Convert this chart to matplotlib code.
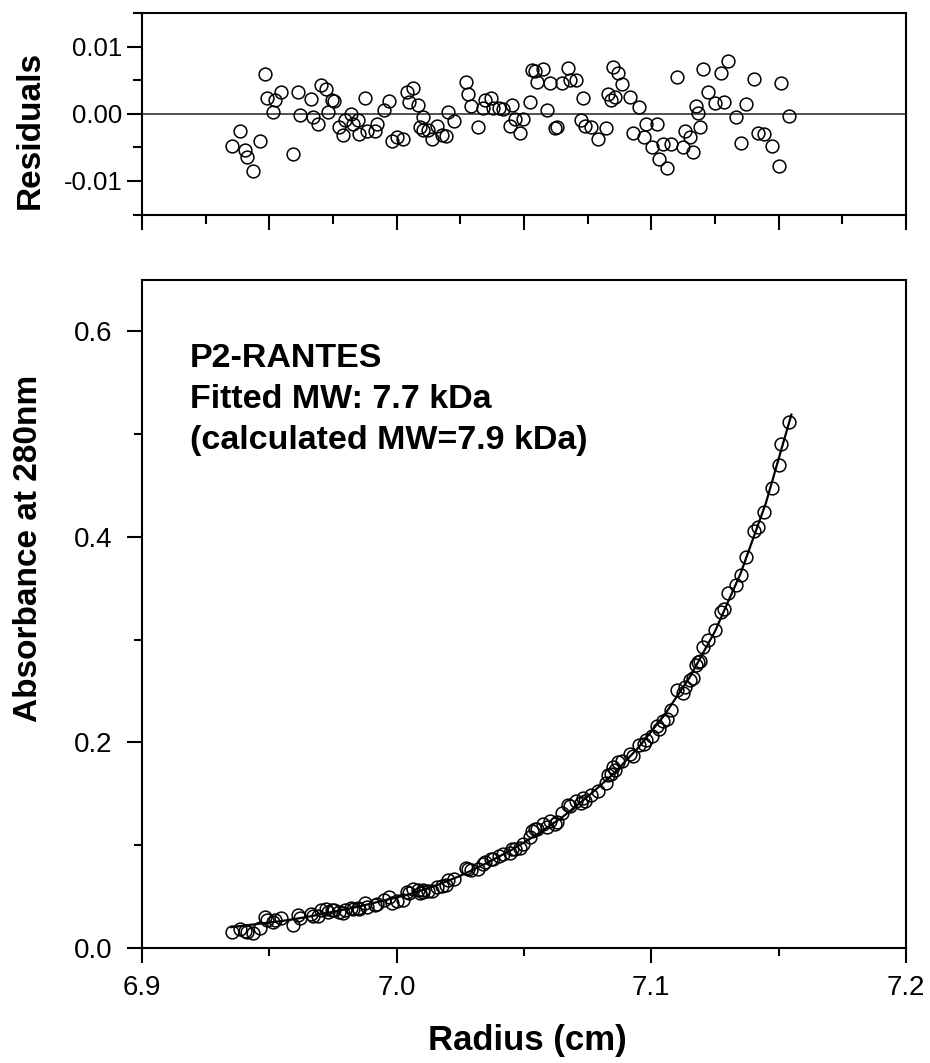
import matplotlib
matplotlib.use("Agg")
import matplotlib.pyplot as plt
from matplotlib.ticker import MultipleLocator, FixedLocator, FixedFormatter, NullFormatter

plt.rcParams['font.family'] = ['Liberation Sans', 'DejaVu Sans']

# ---------------- data ----------------
radius = [
    6.9352, 6.9385, 6.9404, 6.9411, 6.9435, 6.9463, 6.9483, 6.9489, 6.9513, 6.9522,
    6.9544, 6.9592, 6.9614, 6.9620, 6.9662, 6.9670, 6.9692, 6.9701, 6.9722, 6.9732,
    6.9745, 6.9754, 6.9775, 6.9790, 6.9797, 6.9819, 6.9827, 6.9849, 6.9853, 6.9876,
    6.9882, 6.9915, 6.9921, 6.9950, 6.9971, 6.9980, 7.0000, 7.0023, 7.0039, 7.0050,
    7.0065, 7.0085, 7.0102, 7.0091, 7.0105, 7.0124, 7.0137, 7.0157, 7.0177, 7.0194,
    7.0203, 7.0225, 7.0272, 7.0281, 7.0290, 7.0320, 7.0338, 7.0347, 7.0369, 7.0379,
    7.0403,
    7.0419, 7.0451, 7.0445, 7.0464, 7.0484, 7.0495, 7.0523, 7.0530, 7.0543, 7.0552,
    7.0573, 7.0591, 7.0602, 7.0622, 7.0631, 7.0648, 7.0674, 7.0680, 7.0704, 7.0722,
    7.0733, 7.0739, 7.0765, 7.0792, 7.0822, 7.0831, 7.0840, 7.0851, 7.0857, 7.0870,
    7.0883, 7.0916, 7.0929, 7.0953, 7.0971, 7.0979, 7.1001, 7.1021, 7.1031, 7.1047,
    7.1063, 7.1076, 7.1102, 7.1123, 7.1132, 7.1152, 7.1162, 7.1175, 7.1184, 7.1191,
    7.1201, 7.1224, 7.1250, 7.1272, 7.1285, 7.1302, 7.1332, 7.1354, 7.1371, 7.1403,
    7.1420, 7.1442, 7.1472, 7.1502, 7.1511, 7.1542,
]

residuals = [
    -0.0048, -0.0025, -0.0054, -0.0064, -0.0085, -0.0041, 0.0059, 0.0023, 0.0002, 0.0021,
    0.0032, -0.0060, 0.0033, -0.0002, 0.0022, -0.0005, -0.0015, 0.0043, 0.0037, 0.0003,
    0.0021, 0.0019, -0.0020, -0.0031, -0.0009, 0.0000, -0.0016, -0.0010, -0.0030, 0.0023,
    -0.0026, -0.0025, -0.0015, 0.0005, 0.0019, -0.0041, -0.0034, -0.0038, 0.0033, 0.0017,
    0.0038, 0.0013, -0.0005, -0.0019, -0.0024, -0.0024, -0.0038, -0.0018, -0.0031, -0.0033,
    0.0003, -0.0011, 0.0047, 0.0030, 0.0012, -0.0019, 0.0008, 0.0020, 0.0023, 0.0009,
    0.0008,
    0.0007, 0.0013, -0.0018, -0.0008, -0.0028, -0.0008, 0.0018, 0.0065, 0.0064, 0.0048,
    0.0066, 0.0006, 0.0046, -0.0021, -0.0019, 0.0046, 0.0068, 0.0050, 0.0050, -0.0009,
    0.0023, -0.0018, -0.0019, -0.0037, -0.0021, 0.0030, 0.0021, 0.0070, 0.0025, 0.0061,
    0.0045, 0.0025, -0.0029, 0.0010, -0.0035, -0.0015, -0.0050, -0.0015, -0.0068, -0.0045,
    -0.0081, -0.0045, 0.0054, -0.0050, -0.0026, -0.0034, -0.0057, 0.0012, 0.0001, -0.0020,
    0.0066, 0.0033, 0.0016, 0.0061, 0.0017, 0.0079, -0.0005, -0.0044, 0.0014, 0.0052,
    -0.0028, -0.0030, -0.0048, -0.0078, 0.0046, -0.0004,
]

absorbance = [
    0.0153, 0.0186, 0.0162, 0.0154, 0.0141, 0.0193, 0.0299, 0.0265, 0.0251, 0.0273,
    0.0290, 0.0217, 0.0319, 0.0286, 0.0328, 0.0305, 0.0306, 0.0369, 0.0373, 0.0344,
    0.0369, 0.0371, 0.0343, 0.0339, 0.0365, 0.0385, 0.0373, 0.0390, 0.0372, 0.0439,
    0.0393, 0.0414, 0.0428, 0.0465, 0.0492, 0.0437, 0.0456, 0.0466, 0.0546, 0.0537,
    0.0570, 0.0561, 0.0557, 0.0534, 0.0540, 0.0555, 0.0552, 0.0589, 0.0596, 0.0611,
    0.0656, 0.0664, 0.0773, 0.0767, 0.0760, 0.0765, 0.0814, 0.0836, 0.0868, 0.0867,
    0.0897,
    0.0917, 0.0965, 0.0926, 0.0963, 0.0973, 0.1010, 0.1078, 0.1135, 0.1154, 0.1151,
    0.1205, 0.1176, 0.1234, 0.1201, 0.1219, 0.1313, 0.1386, 0.1380, 0.1428, 0.1405,
    0.1459, 0.1430, 0.1484, 0.1525, 0.1607, 0.1678, 0.1689, 0.1763, 0.1733, 0.1803,
    0.1821, 0.1886, 0.1866, 0.1969, 0.1980, 0.2025, 0.2058, 0.2155, 0.2133, 0.2206,
    0.2227, 0.2311, 0.2506, 0.2480, 0.2537, 0.2605, 0.2626, 0.2754, 0.2784, 0.2795,
    0.2926, 0.2996, 0.3096, 0.3264, 0.3293, 0.3450, 0.3534, 0.3624, 0.3799, 0.4058,
    0.4096, 0.4246, 0.4471, 0.4699, 0.4901, 0.5117,
]

fit_radius = [6.935, 6.945, 6.955, 6.965, 6.975, 6.985, 6.995, 7.005, 7.015, 7.025,
              7.035, 7.045, 7.055, 7.065, 7.075, 7.085, 7.095, 7.105, 7.115, 7.125,
              7.135, 7.145, 7.155]
fit_absorbance = [0.020, 0.023, 0.026, 0.030, 0.035, 0.040, 0.046, 0.052, 0.060, 0.070,
                  0.082, 0.095, 0.110, 0.127, 0.147, 0.169, 0.195, 0.226, 0.263, 0.308,
                  0.364, 0.433, 0.519]

x_ticks = [6.9, 7.0, 7.1, 7.2]
x_ticklabels = ["6.9", "7.0", "7.1", "7.2"]
abs_ticks = [0.0, 0.2, 0.4, 0.6]
abs_ticklabels = ["0.0", "0.2", "0.4", "0.6"]
res_ticks = [-0.01, 0.0, 0.01]
res_ticklabels = ["-0.01", "0.00", "0.01"]

annotation_lines = ["P2-RANTES", "Fitted MW: 7.7 kDa", "(calculated MW=7.9 kDa)"]

# ---------------- figure ----------------
W, H = 930, 1063
fig = plt.figure(figsize=(W / 100, H / 100), dpi=100)

ax_l, ax_r = 142, 906
ax_top = fig.add_axes([ax_l / W, 1 - 214.5 / H, (ax_r - ax_l) / W, 201.5 / H])
ax_bot = fig.add_axes([ax_l / W, 1 - 947.7 / H, (ax_r - ax_l) / W, (947.7 - 280) / H])

marker_kw = dict(linestyle='none', marker='o', markersize=9.2, markerfacecolor='none',
                 markeredgecolor='black', markeredgewidth=1.1)

for ax in (ax_top, ax_bot):
    for sp in ax.spines.values():
        sp.set_linewidth(1.5)
        sp.set_color('black')
    ax.set_xlim(6.9, 7.2)

# residuals panel
ax_top.axhline(0.0, color='#222222', linewidth=1.1, zorder=1)
ax_top.plot(radius, residuals, **marker_kw, zorder=3)
ax_top.set_ylim(-0.015, 0.015)
ax_top.xaxis.set_major_locator(MultipleLocator(0.05))
ax_top.xaxis.set_minor_locator(MultipleLocator(0.025))
ax_top.xaxis.set_major_formatter(NullFormatter())
ax_top.yaxis.set_major_locator(FixedLocator(res_ticks))
ax_top.yaxis.set_major_formatter(FixedFormatter(res_ticklabels))
ax_top.yaxis.set_minor_locator(MultipleLocator(0.005))
ax_top.tick_params(which='major', direction='out', length=11, width=1.5, labelsize=18.5, pad=3)
ax_top.tick_params(which='minor', direction='out', length=6.5, width=1.5)
ax_top.tick_params(top=False, right=False, which='both')
ax_top.set_ylabel("Residuals", fontsize=24, fontweight='bold')
ax_top.yaxis.label.set_va('center')
ax_top.yaxis.set_label_coords(-0.146, 0.42)

# absorbance panel
ax_bot.plot(fit_radius, fit_absorbance, color='black', linewidth=1.6, zorder=2)
ax_bot.plot(radius, absorbance, **marker_kw, zorder=3)
ax_bot.set_ylim(0.0, 0.65)
ax_bot.xaxis.set_major_locator(FixedLocator(x_ticks))
ax_bot.xaxis.set_major_formatter(FixedFormatter(x_ticklabels))
ax_bot.xaxis.set_minor_locator(MultipleLocator(0.05))
ax_bot.yaxis.set_major_locator(FixedLocator(abs_ticks))
ax_bot.yaxis.set_major_formatter(FixedFormatter(abs_ticklabels))
ax_bot.yaxis.set_minor_locator(MultipleLocator(0.1))
ax_bot.tick_params(which='major', direction='out', length=11, width=1.5, labelsize=20)
ax_bot.tick_params(axis='y', which='major', pad=10.5)
ax_bot.tick_params(axis='x', which='major', pad=8.5)
ax_bot.tick_params(which='minor', direction='out', length=6, width=1.5)
ax_bot.tick_params(top=False, right=False, which='both')
ax_bot.set_ylabel("Absorbance at 280nm", fontsize=24, fontweight='bold')
ax_bot.yaxis.label.set_va('center')
ax_bot.yaxis.set_label_coords(-0.1486, 0.598)
ax_bot.set_xlabel("Radius (cm)", fontsize=25, fontweight='bold')
ax_bot.xaxis.label.set_va('center')
ax_bot.xaxis.set_label_coords(0.504, -0.1397)

baselines = [0.8697, 0.8083, 0.7469]
for line, yb in zip(annotation_lines, baselines):
    ax_bot.text(0.0628, yb, line, transform=ax_bot.transAxes, fontsize=24.5,
                fontweight='bold', ha='left', va='baseline')

fig.savefig("out.png", dpi=100)
